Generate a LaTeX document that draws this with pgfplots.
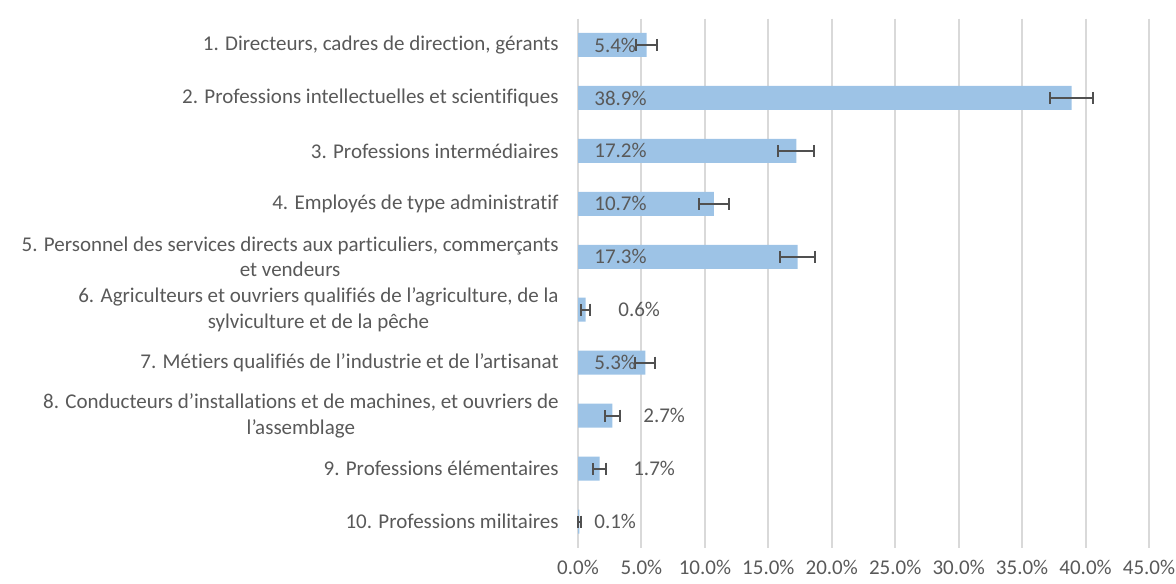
\documentclass[border=0pt]{standalone}
\usepackage{pgfplots}
\pgfplotsset{compat=1.18}
\usepackage{fontspec}
\setmainfont[Ligatures=NoCommon]{Carlito}
\definecolor{barblue}{HTML}{9DC3E6}
\definecolor{txt}{HTML}{595959}
\definecolor{gridc}{HTML}{D9D9D9}
\definecolor{errc}{HTML}{505050}
\begin{document}
\fontsize{10.5}{12.8}\selectfont
\begin{tikzpicture}
\path[use as bounding box] (0,0) rectangle (588pt,291.5pt);
\begin{axis}[
  at={(289pt,17.5pt)}, anchor=south west,
  scale only axis, width=285.5pt, height=264.75pt,
  xmin=0, xmax=45, ymin=0.5, ymax=10.5, y dir=reverse,
  axis line style={draw=none},
  xtick={0,5,...,45},
  xmajorgrids, grid style={gridc, line width=1pt},
  ytick={1,...,10},
  yticklabels={
    {1. Directeurs, cadres de direction, gérants},
    {2. Professions intellectuelles et scientifiques},
    {3. Professions intermédiaires},
    {4. Employés de type administratif},
    {5. Personnel des services directs aux particuliers, commerçants\\et vendeurs},
    {6. Agriculteurs et ouvriers qualifiés de l’agriculture, de la\\sylviculture et de la pêche},
    {7. Métiers qualifiés de l’industrie et de l’artisanat},
    {8. Conducteurs d’installations et de machines, et ouvriers de\\l’assemblage},
    {9. Professions élémentaires},
    {10. Professions militaires}},
  yticklabel style={align=center, anchor=east, inner sep=0pt, xshift=-9.5pt, text=txt, font=\fontsize{10.5}{12.8}\selectfont},
  xticklabel={\pgfmathprintnumber[fixed,fixed zerofill,precision=1]{\tick}\%},
  xticklabel style={anchor=north, inner sep=0pt, yshift=-6pt, text=txt, font=\fontsize{10.5}{12.8}\selectfont},
  /pgf/number format/assume math mode=true,
  major tick length=0,
  clip=false,
]
\addplot[xbar, bar width=12pt, bar shift=0pt, fill=barblue, draw=none,
  error bars/.cd, x dir=both, x explicit, error mark=|,
  error bar style={errc, line width=1pt},
  error mark options={errc, line width=1pt, mark size=3pt}]
coordinates {
  (5.4,1) +- (0.8,0)
  (38.9,2) +- (1.7,0)
  (17.2,3) +- (1.4,0)
  (10.7,4) +- (1.2,0)
  (17.3,5) +- (1.4,0)
  (0.6,6) +- (0.35,0)
  (5.3,7) +- (0.8,0)
  (2.7,8) +- (0.6,0)
  (1.7,9) +- (0.5,0)
  (0.1,10) +- (0.1,0)
};
\addplot[draw=none, mark=none, nodes near coords, point meta=explicit symbolic,
  nodes near coords style={anchor=west, inner sep=0pt, text=txt, font=\fontsize{10.5}{12.8}\selectfont}]
coordinates {
  (1.26,1) [5.4\%]
  (1.26,2) [38.9\%]
  (1.26,3) [17.2\%]
  (1.26,4) [10.7\%]
  (1.26,5) [17.3\%]
  (3.15,6) [0.6\%]
  (1.26,7) [5.3\%]
  (5.12,8) [2.7\%]
  (4.33,9) [1.7\%]
  (1.26,10) [0.1\%]
};
\end{axis}
\end{tikzpicture}
\end{document}
